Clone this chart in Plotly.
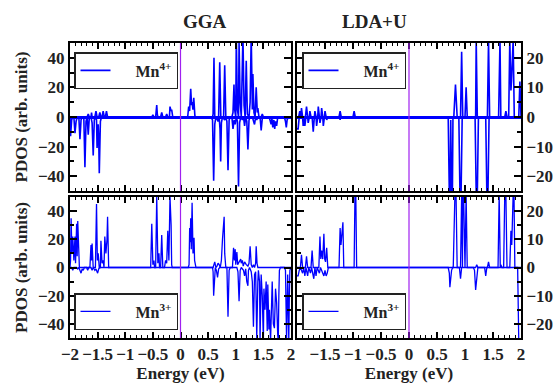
import plotly.graph_objects as go

# ---------------- data (energy eV, PDOS) ----------------
gga_mn4_up = [(-2.0,0), (-1.69,0), (-1.67,2), (-1.65,0), (-1.62,0), (-1.61,3), (-1.60,0), (-1.55,0), (-1.53,4), (-1.51,0),
    (-1.48,0), (-1.46,3), (-1.44,0), (-1.42,0), (-1.40,4), (-1.38,0), (-1.36,0), (-1.34,4), (-1.32,0),
    (-0.52,0), (-0.50,1.5), (-0.48,0), (-0.45,0), (-0.43,8), (-0.42,2), (-0.41,0), (-0.36,0), (-0.34,3), (-0.32,0),
    (-0.27,0), (-0.25,2), (-0.23,0), (-0.20,0), (-0.19,7), (-0.17,4), (-0.16,5), (-0.14,0),
    (0.13,0), (0.148,7), (0.165,4), (0.185,19), (0.20,8), (0.21,10), (0.225,5), (0.24,13), (0.26,1), (0.27,0),
    (0.58,0), (0.59,2), (0.606,40), (0.62,0), (0.69,0), (0.71,37), (0.73,0), (0.78,0), (0.80,35), (0.82,0),
    (0.93,0), (0.95,3), (0.968,22), (0.98,5), (1.0,0), (1.01,55), (1.03,5), (1.05,0), (1.06,50), (1.08,10), (1.10,0),
    (1.13,55), (1.15,8), (1.17,0), (1.19,38), (1.21,2), (1.24,0), (1.26,10), (1.28,55), (1.30,5), (1.31,29), (1.33,3),
    (1.35,0), (1.37,20), (1.39,3), (1.40,6), (1.42,0), (1.46,0), (1.48,2), (1.50,0), (2.0,0)]
gga_mn4_dn = [(-2.0,0), (-1.99,-13), (-1.97,-2), (-1.95,0), (-1.93,0), (-1.91,-11), (-1.89,-3), (-1.87,0), (-1.84,0),
    (-1.82,-15), (-1.80,-2), (-1.78,0), (-1.75,0), (-1.73,-34), (-1.71,-3), (-1.69,0), (-1.67,-12), (-1.65,0), (-1.62,0),
    (-1.60,-4), (-1.58,-26), (-1.56,-2), (-1.54,0), (-1.52,-2), (-1.51,-21), (-1.49,-5), (-1.48,-15), (-1.47,-38),
    (-1.45,-3), (-1.43,0),
    (0.55,0), (0.58,-2), (0.60,-43), (0.62,-5), (0.64,0), (0.66,-2), (0.68,-3), (0.70,0), (0.715,-8), (0.727,-30),
    (0.74,-4), (0.76,0), (0.80,-2), (0.82,0), (0.84,-3), (0.86,-36), (0.88,-2), (0.90,0), (0.93,0), (0.95,-8), (0.97,-2),
    (0.99,-5), (1.01,0), (1.03,-3), (1.05,-47), (1.07,-4), (1.09,0), (1.12,-2), (1.14,0), (1.16,-6), (1.18,0), (1.20,-3),
    (1.22,-22), (1.24,-2), (1.26,0), (1.30,0), (1.32,-3), (1.34,-5), (1.36,0), (1.38,-2), (1.40,0), (1.44,0), (1.46,-9),
    (1.48,-1), (1.50,0), (1.60,0), (1.62,-2), (1.64,-5), (1.655,-1), (1.67,-7), (1.69,-2), (1.705,-8), (1.72,-3),
    (1.74,-6), (1.76,0), (1.88,0), (1.90,-3), (1.915,-7), (1.93,-2), (1.95,0), (2.0,0)]

gga_mn3_up = [(-2.0,0), (-1.99,5), (-1.98,35), (-1.965,10), (-1.95,22), (-1.93,5), (-1.91,22), (-1.90,3), (-1.88,31),
    (-1.87,8), (-1.86,33), (-1.84,5), (-1.83,0),
    (-1.64,0), (-1.62,16), (-1.61,5), (-1.60,17), (-1.58,0), (-1.54,0), (-1.52,45), (-1.505,5), (-1.49,10), (-1.47,0),
    (-1.45,0), (-1.44,19), (-1.42,3), (-1.40,5), (-1.385,0), (-1.37,22), (-1.35,10), (-1.33,20), (-1.32,36),
    (-1.31,10), (-1.30,0),
    (-0.54,0), (-0.52,31), (-0.50,2), (-0.48,5), (-0.47,0), (-0.45,0), (-0.43,50), (-0.41,3), (-0.39,10), (-0.38,0),
    (-0.36,0), (-0.34,23), (-0.32,0), (-0.29,0), (-0.27,5), (-0.25,3), (-0.23,26), (-0.21,5), (-0.19,50), (-0.17,30),
    (-0.16,2), (-0.15,0),
    (0.14,0), (0.155,2), (0.166,28), (0.175,18), (0.185,35), (0.195,13), (0.21,46), (0.218,15), (0.226,10),
    (0.235,14), (0.245,21), (0.255,5), (0.27,3), (0.28,0),
    (0.59,0), (0.605,2), (0.62,4), (0.64,0), (0.66,1), (0.68,3), (0.70,2), (0.72,0), (0.74,5), (0.76,20), (0.775,30),
    (0.79,36), (0.80,10), (0.82,0), (0.94,0), (0.96,14), (0.975,5), (0.99,13), (1.0,2), (1.02,11), (1.035,2),
    (1.05,3), (1.07,5), (1.09,6), (1.10,3), (1.12,5), (1.135,1), (1.16,4), (1.19,2), (1.22,1), (1.24,3), (1.26,15),
    (1.28,2), (1.30,0), (1.32,2), (1.34,0), (1.36,3), (1.37,15), (1.385,3), (1.40,0), (2.0,0)]
gga_mn3_dn = [(-2.0,0), (-1.97,0), (-1.95,-2), (-1.93,0), (-1.88,0), (-1.86,-1), (-1.84,0), (-1.82,-3), (-1.80,-4),
    (-1.78,-1), (-1.76,-2), (-1.74,0), (-1.70,0), (-1.68,-2), (-1.66,0), (-1.62,0), (-1.60,-2), (-1.58,0), (-1.55,-2),
    (-1.53,-1), (-1.51,-3), (-1.50,-4), (-1.48,-1), (-1.46,0),
    (0.58,0), (0.59,-3), (0.60,-20), (0.615,-3), (0.63,0), (0.65,-2), (0.67,-7), (0.69,-1), (0.71,0), (0.84,0),
    (0.86,-35), (0.88,-2), (0.90,0), (1.02,0), (1.04,-3), (1.06,-24), (1.08,-2), (1.10,0), (1.14,-2), (1.16,-6),
    (1.18,-1), (1.20,-10), (1.22,-13), (1.23,-2), (1.25,0), (1.28,-3), (1.30,-10), (1.32,-42), (1.34,-5), (1.36,-3),
    (1.38,-50), (1.40,-10), (1.41,-2), (1.43,-10), (1.44,-52), (1.46,-5), (1.48,-20), (1.50,-52), (1.51,-15),
    (1.53,-30), (1.55,-10), (1.57,-45), (1.58,-12), (1.60,-44), (1.61,-30), (1.63,-52), (1.645,-25), (1.66,-10),
    (1.68,-40), (1.70,-43), (1.72,-15), (1.74,-25), (1.76,-48), (1.77,-52), (1.78,-20), (1.79,-2), (1.81,0),
    (1.88,0), (1.90,-2), (1.92,-52), (1.94,-5), (1.96,-52), (1.97,-20), (1.98,-2), (2.0,0)]

lda_mn4_up = [(-2.0,0), (-1.97,0), (-1.95,2), (-1.93,0), (-1.92,3), (-1.90,0), (-1.85,0), (-1.83,3.5), (-1.81,0),
    (-1.78,0), (-1.77,2), (-1.75,0), (-1.69,0), (-1.68,2), (-1.66,0), (-1.63,0), (-1.62,3.5), (-1.60,0), (-1.57,0),
    (-1.56,3), (-1.54,0), (-1.51,0), (-1.50,2), (-1.48,0), (-1.25,0), (-1.23,2), (-1.21,0), (-1.00,0), (-0.98,2),
    (-0.96,0),
    (0.80,0), (0.83,11), (0.86,0), (0.92,0), (0.94,22), (0.96,0), (1.00,0), (1.02,10), (1.04,0), (1.19,0), (1.20,26),
    (1.22,0), (1.40,0), (1.42,26), (1.44,0), (1.60,0), (1.625,26), (1.64,0), (1.71,0), (1.73,2), (1.75,0), (1.78,0),
    (1.80,26), (1.82,9), (1.83,12), (1.85,26), (1.86,26), (1.88,0), (1.96,0), (1.98,12), (2.0,0)]
lda_mn4_dn = [(-2.0,-4), (-1.98,-4), (-1.96,0), (-1.90,0), (-1.89,-3), (-1.87,0), (-1.86,-3), (-1.84,0), (-1.81,0),
    (-1.80,-2), (-1.78,0), (-1.73,0), (-1.71,-5), (-1.69,0), (-1.66,0), (-1.65,-3), (-1.63,0), (-1.60,0), (-1.59,-2),
    (-1.57,0), (-1.54,0), (-1.53,-3), (-1.51,0), (-1.48,0), (-1.47,-1), (-1.45,0), (-1.24,0), (-1.23,-1), (-1.22,0),
    (0.70,0), (0.72,-26), (0.735,-26), (0.745,-1), (0.76,-26), (0.775,-26), (0.785,0), (0.89,0), (0.91,-26),
    (0.93,-26), (0.95,0), (1.18,0), (1.20,-26), (1.22,-26), (1.24,0), (1.37,0), (1.39,-26), (1.41,-26), (1.43,0),
    (2.0,0)]

lda_mn3_up = [(-2.0,0), (-1.94,0), (-1.92,4.5), (-1.90,0), (-1.85,0), (-1.83,4), (-1.81,0), (-1.75,0), (-1.73,6),
    (-1.71,0), (-1.61,0), (-1.59,11), (-1.575,3), (-1.56,6), (-1.54,3), (-1.52,12), (-1.505,3), (-1.49,2), (-1.47,7),
    (-1.45,0), (-1.25,0), (-1.23,14), (-1.215,8), (-1.20,12), (-1.18,16), (-1.165,0), (-0.98,0), (-0.965,26),
    (-0.95,26), (-0.935,0),
    (0.79,0), (0.82,26), (0.84,26), (0.86,0), (0.92,0), (0.94,26), (0.955,0), (0.96,26), (0.975,26), (1.00,0),
    (1.02,26), (1.04,0), (1.19,0), (1.21,1), (1.23,0), (1.40,0), (1.42,2), (1.44,0), (1.59,0), (1.61,26), (1.63,0),
    (1.64,1), (1.66,0), (1.69,0), (1.71,26), (1.73,26), (1.75,0), (1.80,0), (1.82,13), (1.835,8), (1.86,26),
    (1.875,26), (1.89,0), (2.0,0)]
lda_mn3_dn = [(-2.0,-3), (-1.98,-3), (-1.96,-1), (-1.94,0), (-1.90,-2), (-1.88,0), (-1.86,-3), (-1.84,0), (-1.81,-3),
    (-1.79,0), (-1.76,-2), (-1.74,0), (-1.70,-4), (-1.68,0), (-1.66,-3), (-1.64,0), (-1.60,-2), (-1.58,0), (-1.54,-2),
    (-1.52,-3), (-1.50,-1), (-1.48,-3), (-1.46,-2), (-1.44,0),
    (0.70,0), (0.72,-2), (0.73,-7), (0.745,-2), (0.76,-1), (0.78,0), (0.90,0), (0.92,-4), (0.94,0), (1.15,0),
    (1.17,-1), (1.19,-8), (1.21,-2), (1.23,0), (1.35,0), (1.37,-3), (1.39,0), (1.94,0), (1.96,-26), (2.0,-26)]

col_titles = ["GGA", "LDA+U"]
x_ticks = [-2, -1.5, -1, -0.5, 0, 0.5, 1, 1.5, 2]
x_ticks_right = [-1.5, -1, -0.5, 0, 0.5, 1, 1.5, 2]
y_ticks_gga = [-40, -20, 0, 20, 40]
y_ticks_lda = [-20, -10, 0, 10, 20]

# ---------------- figure ----------------
BLUE = "#0000ff"
FONT = "Liberation Serif"
fig = go.Figure()

panels = [
    (gga_mn4_up, gga_mn4_dn, "x", "y", "Mn<sup>4+</sup>", "legend", 1.6),
    (lda_mn4_up, lda_mn4_dn, "x2", "y2", "Mn<sup>4+</sup>", "legend2", 1.6),
    (gga_mn3_up, gga_mn3_dn, "x3", "y3", "Mn<sup>3+</sup>", "legend3", 1.3),
    (lda_mn3_up, lda_mn3_dn, "x4", "y4", "Mn<sup>3+</sup>", "legend4", 1.3),
]
NB = "\u00a0"
for up, dn, xa, ya, lab, leg, lw in panels:
    for k, series in enumerate((up, dn)):
        fig.add_trace(go.Scatter(
            x=[p[0] for p in series], y=[p[1] for p in series], mode="lines",
            line=dict(color=BLUE, width=lw), xaxis=xa, yaxis=ya,
            name=NB * 5 + lab, showlegend=(k == 0), legend=leg))

W, H = 557, 384
xl = [70 / W, 291 / W]
xr = [297 / W, 521 / W]
yt = [1 - 191 / H, 1 - 43 / H]
yb = [1 - 338 / H, 1 - 197 / H]

tickfont = dict(family=FONT, size=17, color="#222", weight="bold")
common_x = dict(range=[-2, 2], showline=True, mirror="allticks", linewidth=2, linecolor="black",
                ticks="inside", ticklen=6, tickwidth=1.5, tickcolor="black", showgrid=False, zeroline=False,
                minor=dict(dtick=0.1, ticks="inside", ticklen=3, tickwidth=1, tickcolor="black", showgrid=False),
                tickfont=tickfont, automargin=False)
common_y = dict(showline=True, mirror="allticks", linewidth=2, linecolor="black",
                ticks="inside", ticklen=7, tickwidth=1.5, tickcolor="black", showgrid=False,
                tickfont=tickfont, automargin=False)

title_font = dict(family=FONT, size=17, color="#222", weight="bold")
fig.update_layout(
    width=W, height=H, margin=dict(l=0, r=0, t=0, b=0),
    paper_bgcolor="white", plot_bgcolor="white",
    xaxis=dict(common_x, domain=xl, anchor="y", tickvals=x_ticks, showticklabels=False),
    xaxis2=dict(common_x, domain=xr, anchor="y2", tickvals=x_ticks, showticklabels=False),
    xaxis3=dict(common_x, domain=xl, anchor="y3", tickvals=x_ticks,
                title=dict(text="Energy (eV)", font=title_font, standoff=2)),
    xaxis4=dict(common_x, domain=xr, anchor="y4", tickvals=x_ticks_right,
                title=dict(text="Energy (eV)", font=title_font, standoff=2)),
    yaxis=dict(common_y, domain=yt, anchor="x", range=[-50, 50], tickvals=y_ticks_gga,
               minor=dict(dtick=10, ticks="inside", ticklen=4, tickcolor="black"),
               zeroline=True, zerolinecolor=BLUE, zerolinewidth=2.5,
               title=dict(text="PDOS (arb. units)", font=title_font, standoff=6)),
    yaxis2=dict(common_y, domain=yt, anchor="x2", range=[-25, 25], tickvals=y_ticks_lda, side="right",
                minor=dict(dtick=5, ticks="inside", ticklen=4, tickcolor="black"),
                zeroline=True, zerolinecolor=BLUE, zerolinewidth=2.5),
    yaxis3=dict(common_y, domain=yb, anchor="x3", range=[-50, 50], tickvals=y_ticks_gga,
                minor=dict(dtick=10, ticks="inside", ticklen=4, tickcolor="black"), zeroline=False,
                title=dict(text="PDOS (arb. units)", font=title_font, standoff=6)),
    yaxis4=dict(common_y, domain=yb, anchor="x4", range=[-25, 25], tickvals=y_ticks_lda, side="right",
                minor=dict(dtick=5, ticks="inside", ticklen=4, tickcolor="black"), zeroline=False),
)

legfont = dict(family=FONT, size=16, color="#222", weight="bold")
legbase = dict(bgcolor="white", bordercolor="#222", borderwidth=1.5, font=legfont,
               xanchor="left", tracegroupgap=0, itemwidth=30)
fig.update_layout(
    legend=dict(legbase, x=74 / W, y=1 - 52 / H, yanchor="top"),
    legend2=dict(legbase, x=302 / W, y=1 - 52 / H, yanchor="top"),
    legend3=dict(legbase, x=74 / W, y=1 - 330 / H, yanchor="bottom"),
    legend4=dict(legbase, x=302 / W, y=1 - 330 / H, yanchor="bottom"),
)

# Fermi level lines
for xa, ya in [("x", "y"), ("x2", "y2"), ("x3", "y3"), ("x4", "y4")]:
    fig.add_shape(type="line", xref=xa, yref=ya + " domain", x0=0, x1=0, y0=0, y1=1,
                  line=dict(color="#a020f0", width=1.2), layer="above")

for i, t in enumerate(col_titles):
    dom = xl if i == 0 else xr
    fig.add_annotation(text=t, xref="paper", yref="paper", x=(dom[0] + dom[1]) / 2, y=1 - 22 / H,
                       showarrow=False, font=dict(family=FONT, size=19, color="#222", weight="bold"),
                       yanchor="middle")

fig.write_html("out.html")
